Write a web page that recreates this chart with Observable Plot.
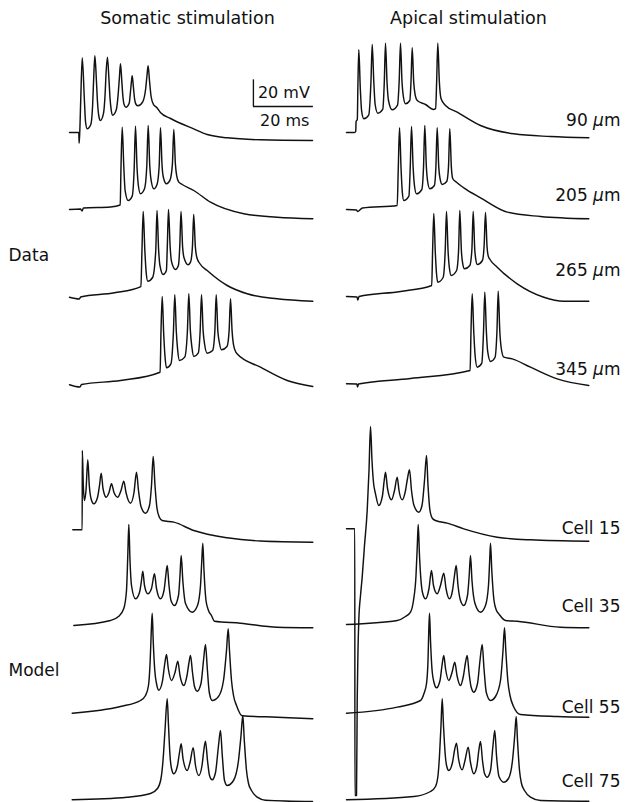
<!DOCTYPE html>
<html>
<head>
<meta charset="utf-8">
<script src="https://cdn.jsdelivr.net/npm/d3@7"></script>
<script src="https://cdn.jsdelivr.net/npm/@observablehq/plot@0.6"></script>
<style>
  body { margin: 0; background: #fff; }
</style>
</head>
<body>
<div id="chart"></div>
<script>
// Each sweep: [time (ms from sweep start), membrane potential (mV relative to the sweep's resting level)]

// Recorded cells, somatic current injection
const somaData90 = [[0,0],[3.1,0],[3.2,-8],[3.4,-1],[3.75,25],[4.25,56],[4.95,25],[5.35,8],[5.9,2.8],[7.1,6],[7.7,20],[8.05,40],[8.45,57.5],[8.95,40],[9.3,24],[9.8,12],[10.3,9],[11.3,14],[11.85,28],[12.2,45],[12.65,56.5],[13.15,40],[13.5,26],[13.9,17],[14.4,13],[15.6,17],[16.2,28],[16.6,40],[17,51.5],[17.45,38],[17.8,27],[18.2,21],[18.8,19],[19.9,22],[20.3,30],[20.6,37],[20.9,42.5],[21.3,34],[21.7,25],[22.2,21],[22.8,20],[24.4,23],[25.4,33],[25.8,42],[26.2,50],[26.7,38],[27.2,27],[28,21],[29,19],[30.3,15],[33.7,10.5],[41.4,2.7],[45.9,-1.5],[52.6,-4],[63.7,-5.5],[81,-6]];
const somaData205 = [[0,0],[3.67,0.4],[4.17,-1.1],[4.67,1.1],[13.67,1.9],[16.9,3.4],[17.15,30],[17.57,61.7],[18.1,32],[18.55,14],[19.57,6.75],[20.9,10],[21.55,30],[22,62.5],[22.5,32],[22.95,18],[23.67,11.75],[25,15.5],[25.75,32],[26.23,63],[26.75,33],[27.2,22],[28.1,15.5],[29.2,19],[29.9,33],[30.33,61.25],[30.85,33],[31.3,24],[32.33,19.25],[33.5,22],[34.3,34],[34.77,60],[35.3,34],[35.75,25],[36.43,20.5],[37.57,18.75],[41.43,14.25],[47,5.5],[58.1,-3.2],[69.2,-5.8],[81.1,-7]];
const somaData265 = [[0,0.2],[3.3,-1.1],[3.7,0.4],[15,3.5],[23.8,8.2],[24.15,35],[24.57,64.5],[25.1,36],[25.55,19],[26.1,12.2],[27.7,15],[28.75,35],[29.17,65.25],[29.7,36],[30.15,24],[31.23,17.25],[32.3,20.25],[32.6,38],[33,66],[33.55,38],[34,27],[35.33,21],[36.3,24],[36.75,38],[37.17,64.5],[37.7,38],[38.15,30],[39.57,24.5],[40.4,27],[41,39],[41.4,62.25],[41.95,38],[42.45,30],[43.43,25.5],[45.9,20.25],[52.57,9],[59.23,2.8],[69.23,-1],[81.1,-2.8]];
const somaData345 = [[0,-0.2],[3.5,-1.9],[4,0],[17,3],[30.2,9.2],[30.5,40],[30.9,66],[31.4,38],[31.8,22],[32.33,12.5],[33.8,15.5],[34.65,40],[35.1,67.25],[35.6,40],[36.05,26],[36.67,18],[38.4,20.5],[39.3,40],[39.77,68],[40.3,40],[40.8,28],[41.43,21],[42.9,23.5],[43.55,40],[44,67.25],[44.55,40],[45.05,30],[45.9,23.5],[47.7,25.5],[48.45,40],[48.9,67.25],[49.45,40],[49.95,31.5],[50.67,26],[52.5,28.5],[53.2,40],[53.67,64.25],[54.2,40],[54.7,29.5],[55.77,23.25],[63.67,13],[72.57,3],[81.1,-1.5]];

// Recorded cells, apical dendritic stimulation
const apicalData90 = [[0,0],[2.67,0],[3.07,0.75],[3.2,8.25],[3.6,9.75],[3.8,35],[4.1,62],[4.6,33],[5.05,16],[5.77,10.25],[7.4,13],[8.15,38],[8.57,66],[9.1,38],[9.55,21],[10.43,14.5],[12.1,17.5],[12.6,38],[13,67],[13.5,38],[14,24],[15.23,17],[17,20.5],[17.55,38],[18,67],[18.5,38],[18.95,27],[19.67,21.5],[21.1,24],[21.5,38],[21.9,63.5],[22.4,38],[22.9,28],[23.57,24],[26.33,21],[29,17.25],[29.7,18],[30.05,38],[30.43,67],[30.95,38],[31.5,25.5],[33,20.25],[36.9,15.25],[44.67,5.25],[55.77,-1],[68,-3],[80.77,-4]];
const apicalData205 = [[0,0],[3.33,-0.4],[3.67,-1.5],[5.33,1.1],[16.9,3],[17.25,30],[17.67,61.25],[18.2,30],[18.6,13],[19.1,6.75],[20.8,10],[21.25,32],[21.67,62.25],[22.2,32],[22.65,18],[23.33,11.75],[25.1,15],[25.68,32],[26.1,63],[26.62,32],[27.05,21],[27.77,15.5],[29.3,18],[29.8,32],[30.23,61.25],[30.75,32],[31.2,23],[31.9,18.75],[33.4,21],[34,32],[34.43,60.5],[34.95,32],[35.4,23.25],[36.67,20.5],[39.1,16.25],[44.67,8.75],[53.57,-2],[64.67,-5.25],[80.77,-7]];
const apicalData265 = [[0,0.75],[3.5,0.4],[3.77,-1.9],[4.17,0.75],[18,4.5],[28.4,9],[28.7,35],[29.1,63],[29.6,34],[30,18],[30.43,11.5],[32.2,15],[32.9,35],[33.33,64.5],[33.85,35],[34.25,23],[34.9,16.5],[36.7,20.25],[37.35,35],[37.77,65.25],[38.3,35],[38.7,26],[39.33,21.5],[41.1,24],[41.8,36],[42.23,64.5],[42.75,36],[43.1,28.5],[43.57,24.75],[45.3,27.75],[45.9,40],[46.33,63.75],[46.85,38],[47.25,31],[47.83,28.5],[50.23,22.75],[56.9,10.25],[65.77,0.2],[72.43,-2.8],[80.77,-2.8]];
const apicalData345 = [[0,0.5],[3.43,0.4],[3.67,-1.9],[4,0.4],[21.33,4.5],[41.2,10.5],[41.5,40],[41.9,68],[42.45,38],[42.9,21],[43.57,13],[45.1,16],[45.68,40],[46.1,69.25],[46.62,40],[47.05,25],[48,17.25],[49.5,20.25],[50.15,40],[50.57,70],[51.1,40],[51.6,27],[52.43,20.5],[55.23,19.25],[61.33,13],[70.23,4.25],[80.77,-0.75]];

// Model cells, somatic current injection
const somaCell15 = [[1.1,-0.2],[4.23,-0.2],[4.27,59.25],[4.6,33],[5,21.75],[5.5,29.25],[6.1,52.25],[6.6,33],[7.17,23.25],[8.1,19.25],[9.33,24],[10,33],[10.57,42.25],[11.17,30.75],[12.23,24.25],[13.17,27.75],[14,34.25],[14.83,27.75],[16.1,24.25],[17.17,29.25],[18.1,36.25],[18.83,27.75],[20.33,19.75],[21.5,27.75],[22.33,43],[23,29.25],[23.83,17.25],[25.33,12.25],[26.67,18],[27.33,33],[27.9,54.75],[28.5,33],[29.17,15.75],[30,9],[30.9,6.75],[34.77,5.5],[41.43,-0.75],[52.57,-6.2],[63.67,-8.6],[81.1,-9.5]];
const somaCell35 = [[1.43,0],[13.67,3.75],[16.33,6.75],[18.1,12.75],[19,26.25],[19.43,52.5],[19.77,75.75],[20.17,48.75],[20.67,30],[22,20],[23.33,24.75],[24,33.75],[24.43,40.75],[25,30],[26.1,23.75],[27.33,27.75],[28.33,38.75],[29,27.75],[30.33,20],[31.5,26.25],[32.1,37.5],[32.57,45],[33.17,30],[33.83,18.75],[35,15],[36.33,22.5],[36.83,37.5],[37.23,52.5],[37.77,33.75],[38.67,16.5],[40.9,10],[42.67,15],[43.67,30],[44.1,48.75],[44.43,61.75],[44.83,41.25],[45.5,18.75],[46.33,11.25],[47.33,7.5],[48.33,3.2],[57,1.75],[69.23,-1.3],[81.1,-1.7]];
const somaCell55 = [[0.9,0.2],[17,5.25],[23.67,9.75],[25.33,13.5],[26.33,21],[26.9,39.75],[27.27,62.25],[27.57,75.25],[27.9,54.75],[28.43,32.25],[29,22.5],[29.77,17.5],[31,24.5],[31.67,36],[32.33,44.25],[32.93,33.75],[34,24.75],[35.17,30.75],[36.1,39.25],[36.83,28.5],[38.1,21],[39.17,28.5],[39.83,38.25],[40.33,43.5],[41,30.75],[41.67,20.25],[42.57,16.75],[43.83,22.5],[44.67,39.75],[45.33,51.75],[45.93,33.75],[46.6,15.75],[47.57,9.75],[49.67,12.75],[51.33,24.75],[52.33,47.25],[52.9,63.5],[53.33,47.25],[54,24.75],[54.67,13.5],[55.67,6],[57.57,-1.7],[69.23,-2.8],[81.1,-4]];
const somaCell75 = [[0.9,-0.2],[19.23,1.75],[27,4.5],[29.33,8.25],[30.5,15.75],[31.17,29.25],[31.83,51.75],[32.57,75.5],[33,55.5],[33.5,33],[34,23.25],[34.77,19.25],[36,25.5],[36.67,35.25],[37.23,41.75],[37.83,30.75],[39.23,21.75],[40.17,27.75],[41.23,38.75],[42,25.5],[43.1,18],[44.17,25.5],[44.77,36.75],[45.33,43.75],[46,29.25],[46.67,18],[47.57,14.75],[48.67,20.25],[49.67,40.5],[50.33,51.75],[50.93,33],[51.67,14.25],[52.57,10.5],[54.67,14.25],[56.33,29.25],[57.17,48],[57.77,63],[58.27,44.25],[59,21.75],[59.67,12],[60.67,6.75],[62.57,1.75],[65.33,-0.5],[81,-1.5]];

// Model cells, apical dendritic stimulation
const apicalCell15 = [[0,0.5],[2.77,0.5],[2.8,-199.5],[3.33,-199.5],[3.57,-128.25],[3.83,-90.75],[4.1,-68.25],[4.67,-49.5],[5.23,-35.75],[6,-12],[6.9,14.25],[7.5,44.25],[8,77.25],[8.5,51.75],[9,35.25],[9.67,26.75],[10.77,18],[12,25.5],[12.57,36.75],[13,43],[13.67,30.75],[15,22.25],[16,29.25],[16.9,39.25],[17.5,29.25],[18.57,22.25],[19.67,29.25],[20.33,38.25],[21,44.75],[21.67,29.25],[22.5,18],[24.1,13],[25.17,18],[26,36.75],[26.67,55.5],[27.17,33],[27.83,14.25],[28.67,8.25],[29.67,6.75],[33.57,4.75],[39.1,0.5],[50.23,-5.75],[61.33,-7.75],[80.77,-8.8]];
const apicalCell35 = [[0,0.75],[16.9,3.75],[19.67,6.75],[21.33,10],[22.33,18.75],[23.17,37.5],[23.6,60],[23.9,75.75],[24.33,52.5],[24.83,33.75],[25.33,24.75],[26.33,20],[27.5,27.75],[28.33,41.25],[29,30],[30.23,23.75],[31.33,30],[32.43,39.25],[33.17,27.75],[34.33,20],[35.33,26.25],[36,37.5],[36.57,45],[37.17,30],[38,18.75],[39.1,15],[40.33,22.5],[40.9,37.5],[41.33,52.5],[41.83,33.75],[42.83,16.5],[44.67,10],[46.33,15],[47.33,30],[47.73,48.75],[48,61.75],[48.43,41.25],[49.17,18.75],[50,11.25],[50.77,8.75],[53,3.75],[56.9,3.2],[71.33,-1.3],[80.77,-1.7]];
const apicalCell55 = [[0,0.2],[16.9,4.75],[24.67,9.75],[25.83,15],[26.67,22.5],[27.17,39.75],[27.43,62.25],[27.67,75.25],[28,54.75],[28.53,32.25],[29.17,23.25],[30,19.25],[31.17,24.75],[31.83,36],[32.43,43.5],[33,33.75],[34.1,24.75],[35.17,30.75],[36.1,38.5],[36.83,28.5],[38,21],[39,28.5],[39.67,38.25],[40.23,43.5],[40.83,30.75],[41.5,20.25],[42.43,16],[43.67,22.5],[44.5,39.75],[45.23,51.75],[45.83,33.75],[46.6,15.75],[48,9.75],[49.67,12.75],[51.33,24.75],[52.17,47.25],[52.67,64.25],[53.1,47.25],[53.77,24.75],[54.5,13.5],[55.67,5.25],[58,-0.75],[70.23,-2.25],[80.77,-2.8]];
const apicalCell75 = [[0,-0.2],[22.43,2.25],[28,6],[29.67,9.75],[30.5,18],[31,33],[31.5,55.5],[31.9,75.5],[32.33,55.5],[32.93,33],[33.43,24.75],[34.1,21.75],[35.33,27.75],[36,36.75],[36.67,42.25],[37.33,30.75],[38.57,22.25],[39.5,29.25],[40.57,39.25],[41.33,27.75],[42.43,19.25],[43.5,25.5],[44.1,36.75],[44.67,43.5],[45.33,29.25],[46,19.5],[46.9,16.75],[48,21.75],[48.83,40.5],[49.43,51.75],[50,33],[50.83,17.25],[52.43,13],[54,15.75],[55.33,29.25],[56.07,48],[56.57,62.25],[57,44.25],[57.67,21.75],[58.33,12],[59.33,6.75],[61.33,1.75],[64.67,-0.75],[80.77,-1.3]];

// Text
const columnTitles = ["Somatic stimulation", "Apical stimulation"];
const groupLabels = ["Data", "Model"];
const sweepLabels = ["90 μm", "205 μm", "265 μm", "345 μm", "Cell 15", "Cell 35", "Cell 55", "Cell 75"];
const scaleBarMV = 20;
const scaleBarMS = 20;

// ---- layout ----
const W = 635, H = 802;
const PX_PER_MS = 3, PX_PER_MV = 4 / 3;
const colLeft = [69, 346];                                   // sweep start
const rowRest = [132, 209, 297, 384, 529, 625, 713, 799];     // resting level of each row
const titleX = [187, 468], titleY = 18;
const groupLabelX = 8, groupLabelY = [255, 670];
const sweepLabelRight = 620;
const sweepLabelY = [120, 195, 270, 369, 528, 606, 707, 781];
const barAt = {col: 0, row: 0, t: 61.3, v: 19.5};              // corner of the scale bar

const X = (col, t) => colLeft[col] / PX_PER_MS + t;
const Y = (row, v) => (H - rowRest[row]) / PX_PER_MV + v;
const pxX = (px) => px / PX_PER_MS;
const pxY = (py) => (H - py) / PX_PER_MV;

const sweeps = [
  {col: 0, row: 0, pts: somaData90},  {col: 1, row: 0, pts: apicalData90},
  {col: 0, row: 1, pts: somaData205}, {col: 1, row: 1, pts: apicalData205},
  {col: 0, row: 2, pts: somaData265}, {col: 1, row: 2, pts: apicalData265},
  {col: 0, row: 3, pts: somaData345}, {col: 1, row: 3, pts: apicalData345},
  {col: 0, row: 4, pts: somaCell15},  {col: 1, row: 4, pts: apicalCell15},
  {col: 0, row: 5, pts: somaCell35},  {col: 1, row: 5, pts: apicalCell35},
  {col: 0, row: 6, pts: somaCell55},  {col: 1, row: 6, pts: apicalCell55},
  {col: 0, row: 7, pts: somaCell75},  {col: 1, row: 7, pts: apicalCell75}
];

const samples = sweeps.flatMap((s, i) =>
  s.pts.map(([t, v]) => ({sweep: i, x: X(s.col, t), y: Y(s.row, v)}))
);

const labels = [
  ...columnTitles.map((text, i) => ({text, x: pxX(titleX[i]), y: pxY(titleY), anchor: "middle", size: 17.5})),
  ...groupLabels.map((text, i) => ({text, x: pxX(groupLabelX), y: pxY(groupLabelY[i]), anchor: "start", size: 17})),
  ...sweepLabels.map((text, i) => ({text, x: pxX(sweepLabelRight), y: pxY(sweepLabelY[i]), anchor: "end", size: 17}))
];

const bx = X(barAt.col, barAt.t), by = Y(barAt.row, barAt.v);
const scaleText = [
  {text: `${scaleBarMV} mV`, x: bx + 1.5, y: by + scaleBarMV / 2},
  {text: `${scaleBarMS} ms`, x: bx + 2.2, y: by - 10.5}
];

const textMarks = ["middle", "start", "end"].map((anchor) => {
  const rows = labels.filter(d => d.anchor === anchor);
  return Plot.text(rows, {x: "x", y: "y", text: "text", textAnchor: anchor, fontSize: rows[0].size, fill: "#111"});
});

const chart = Plot.plot({
  width: W,
  height: H,
  margin: 0,
  x: {domain: [0, W / PX_PER_MS], range: [0, W], axis: null},
  y: {domain: [0, H / PX_PER_MV], range: [H, 0], axis: null},
  style: {fontFamily: "DejaVu Sans", background: "#fff"},
  marks: [
    Plot.line(samples, {x: "x", y: "y", z: "sweep", curve: "monotone-x", stroke: "#111", strokeWidth: 1.45}),
    Plot.ruleX([bx], {y1: by, y2: by + scaleBarMV, stroke: "#111", strokeWidth: 1.35}),
    Plot.ruleY([by], {x1: bx, x2: bx + scaleBarMS, stroke: "#111", strokeWidth: 1.35}),
    Plot.text(scaleText, {x: "x", y: "y", text: "text", textAnchor: "start", fontSize: 16, fill: "#111"}),
    ...textMarks
  ]
});

// set the micro sign in italics
for (const t of chart.querySelectorAll("text")) {
  if (t.textContent.includes("μ") && !t.querySelector("tspan")) {
    const [a, b] = t.textContent.split("μ");
    t.textContent = a;
    const mu = document.createElementNS("http://www.w3.org/2000/svg", "tspan");
    mu.setAttribute("font-style", "italic");
    mu.textContent = "μ";
    t.appendChild(mu);
    t.appendChild(document.createTextNode(b));
  }
}

document.getElementById("chart").appendChild(chart);
</script>
</body>
</html>
